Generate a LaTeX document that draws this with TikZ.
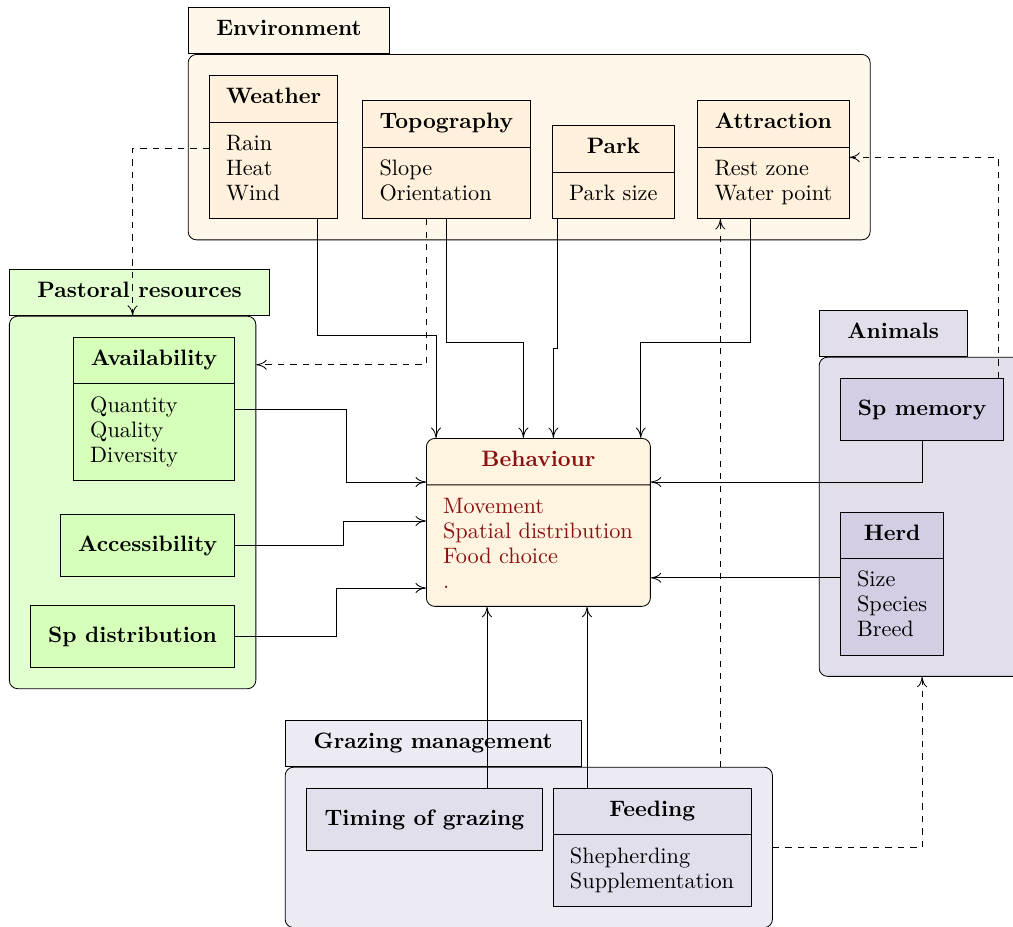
\documentclass[tikz,border=0pt]{standalone}
\usepackage{tikz}
\usetikzlibrary{positioning,shapes.multipart,fit,backgrounds,arrows.meta}

\definecolor{envback}{HTML}{FFF7EA}
\definecolor{envfill}{HTML}{FFF1DC}
\definecolor{pastback}{HTML}{E1FFCF}
\definecolor{pastfill}{HTML}{D6FFBA}
\definecolor{animback}{HTML}{E2DFEB}
\definecolor{animfill}{HTML}{D3CEE3}
\definecolor{grazback}{HTML}{ECEBF3}
\definecolor{grazfill}{HTML}{E2DFEC}
\definecolor{behavfill}{HTML}{FFF4E0}
\definecolor{behavtext}{HTML}{8B1010}

\newcommand{\partlines}[1]{\strut#1\strut}

\begin{document}
\begin{tikzpicture}[
		x=0.48pt, y=-0.48pt,
		font=\fontsize{10.7}{12}\selectfont,
		classbox/.style={
			rectangle split,
			rectangle split parts=2,
			rectangle split part align={center,left},
			draw,
			align=left,
			inner xsep=8pt,
			inner ysep=4.95pt
		},
		plainbox/.style={
			draw,
			font=\fontsize{10.7}{12}\selectfont\bfseries,
			minimum height=29.8pt,
			inner xsep=8.4pt
		},
		groupbox/.style={draw, rounded corners=4pt, inner sep=10pt},
		grouptab/.style={
			draw,
			font=\fontsize{10.7}{12}\selectfont\bfseries,
			inner xsep=13.5pt,
			inner ysep=5pt,
			anchor=south west
		},
		arrow/.style={-{To[length=5pt,width=4.8pt]}},
		dasharrow/.style={arrow, dashed}
	]
		\useasboundingbox (0,0) rectangle (1013,926);

		% environment
		\node[classbox, fill=envfill, minimum width=61.4pt, anchor=south west] (weather) at (209,219) {%
			\partlines{\textbf{Weather}}\nodepart{two}\partlines{Rain\\Heat\\Wind}};
		\node[classbox, fill=envfill, minimum width=80.2pt, right=11.6pt of weather.south east, anchor=south west] (topography) {%
			\partlines{\textbf{Topography}}\nodepart{two}\partlines{Slope\\Orientation}};
		\node[classbox, fill=envfill, minimum width=58.6pt, right=10.4pt of topography.south east, anchor=south west] (park) {%
			\partlines{\textbf{Park}}\nodepart{two}\partlines{Park size}};
		\node[classbox, fill=envfill, minimum width=72.5pt, right=10.8pt of park.south east, anchor=south west] (attraction) {%
			\partlines{\textbf{Attraction}}\nodepart{two}\partlines{Rest zone\\Water point}};

		% pastoral resources
		\node[classbox, fill=pastfill, minimum width=77.3pt, anchor=north east] (availability) at (235,337) {%
			\partlines{\textbf{Availability}}\nodepart{two}\partlines{Quantity\\Quality\\Diversity}};
		\node[plainbox, fill=pastfill, minimum width=83.5pt, below=16pt of availability.south east, anchor=north east] (accessibility) {Accessibility};
		\node[plainbox, fill=pastfill, minimum width=97.9pt, below=13.4pt of accessibility.south east, anchor=north east] (spdist) {Sp distribution};

		% behaviour
		\node[classbox, rounded corners=4pt, fill=behavfill, text=behavtext, minimum width=107.5pt, anchor=north west] (behaviour) at (426,438) {%
			\partlines{\textbf{Behaviour}}\nodepart{two}\partlines{Movement\\Spatial distribution\\Food choice\\.}};

		% animals
		\node[plainbox, fill=animfill, minimum width=78.2pt, anchor=north west] (spmemory) at (840,378) {Sp memory};
		\node[classbox, fill=animfill, minimum width=49.4pt, below=34pt of spmemory.south west, anchor=north west] (herd) {%
			\partlines{\textbf{Herd}}\nodepart{two}\partlines{Size\\Species\\Breed}};

		% grazing management
		\node[plainbox, fill=grazfill, minimum width=113.3pt, anchor=north west] (timing) at (306,788) {Timing of grazing};
		\node[classbox, fill=grazfill, minimum width=95pt, right=4.8pt of timing.north east, anchor=north west] (feeding) {%
			\partlines{\textbf{Feeding}}\nodepart{two}\partlines{Shepherding\\Supplementation}};

		\begin{scope}[on background layer]
			\node[groupbox, fill=envback, fit=(weather)(topography)(park)(attraction)] (envbox) {};
			\node[groupbox, fill=pastback, fit=(availability)(accessibility)(spdist)] (pastbox) {};
			\node[groupbox, fill=animback, fit=(spmemory)(herd)] (animbox) {};
			\node[groupbox, fill=grazback, fit=(timing)(feeding)] (grazbox) {};
		\end{scope}

		\node[grouptab, fill=envback, minimum width=96pt] (envtab) at (envbox.north west) {\strut Environment};
		\node[grouptab, fill=pastback, minimum width=124.8pt] (pasttab) at (pastbox.north west) {\strut Pastoral resources};
		\node[grouptab, fill=animback, minimum width=70pt] (animtab) at (animbox.north west) {\strut Animals};
		\node[grouptab, fill=grazback, minimum width=142pt] (graztab) at (grazbox.north west) {\strut Grazing management};

		% environment to behaviour
		\draw[arrow] ([xshift=-10pt]weather.south east) -- ++(0,116) -| ([xshift=4.8pt]behaviour.north west);
		\draw[arrow] (topography.south) -- ++(0,123) -| ([xshift=-7.2pt]behaviour.north);
		\draw[arrow] ([xshift=2.4pt]park.south west) -- ++(0,129) -| ([xshift=7.2pt]behaviour.north);
		\draw[arrow] ([xshift=25.4pt]attraction.south west) -- ++(0,123) -| ([xshift=-4.8pt]behaviour.north east);

		% pastoral resources to behaviour
		\draw[arrow] ([yshift=-34.6pt]availability.north east) -- ++(111,0) |- ([yshift=-21.1pt]behaviour.north west);
		\draw[arrow] (accessibility.east) -- ++(108,0) |- ([yshift=-39.8pt]behaviour.north west);
		\draw[arrow] (spdist.east) -- ++(101,0) |- ([yshift=-72pt]behaviour.north west);

		% animals to behaviour
		\draw[arrow] (spmemory.south) |- ([yshift=-21.1pt]behaviour.north east);
		\coordinate (herdout) at ([yshift=-31.7pt]herd.north west);
		\draw[arrow] (herdout) -- (herdout -| behaviour.east);

		% grazing management to behaviour
		\coordinate (timingin) at ([xshift=29.3pt]behaviour.south west);
		\coordinate (feedingin) at ([xshift=77.3pt]behaviour.south west);
		\draw[arrow] (timing.north -| timingin) -- (timingin);
		\draw[arrow] (feeding.north -| feedingin) -- (feedingin);

		% dashed links
		\draw[dasharrow] ([yshift=-35pt]weather.north west) -| (pastbox.north);
		\draw[dasharrow] ([xshift=-9.8pt]topography.south) |- ([yshift=-23.5pt]pastbox.north east);
		\coordinate (attrin) at ([xshift=11pt]attraction.south west);
		\draw[dasharrow] (grazbox.north -| attrin) -- (attrin);
		\draw[dasharrow] ([xshift=-2.9pt]spmemory.north east) |- ([yshift=-27.4pt]attraction.north east);
		\draw[dasharrow] ([yshift=-38.9pt]grazbox.north east) -| (animbox.south);
	\end{tikzpicture}
\end{document}
